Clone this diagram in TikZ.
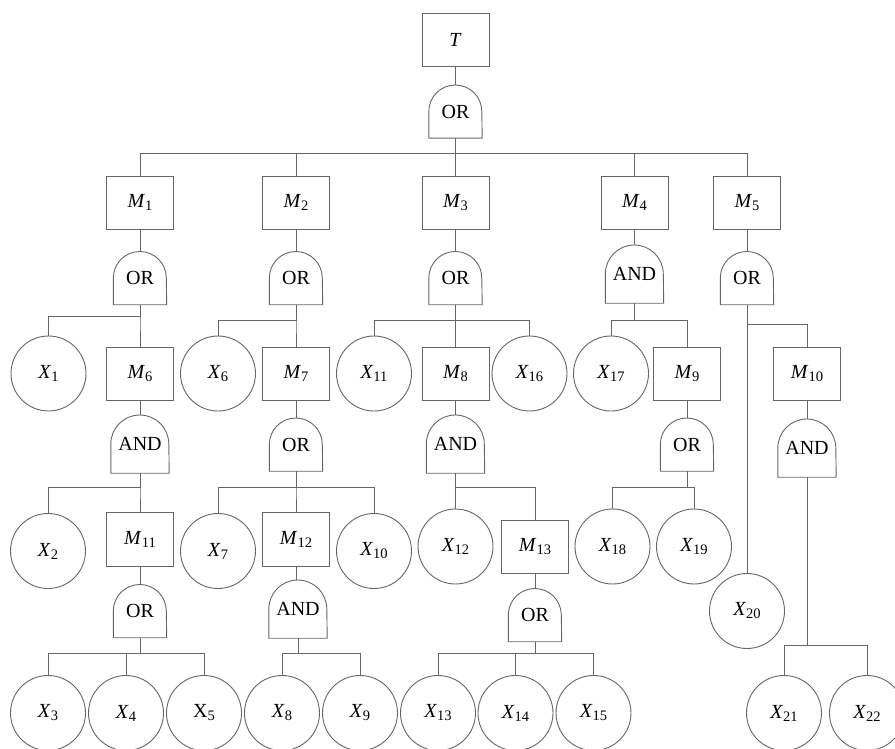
\documentclass[tikz,border=0pt]{standalone}
\usepackage{fontspec}
\setmainfont{Liberation Serif}
\usetikzlibrary{positioning}
\newcommand{\ev}[2]{\textit{#1}\raisebox{-3pt}{\fontsize{14.5}{15}\selectfont #2}}

\begin{document}
\begin{tikzpicture}[x=1pt,y=1pt]
\tikzset{
event/.style={rectangle, draw=black!60, line width=0.9pt, minimum width=67pt, minimum height=53pt, inner sep=0pt, font=\fontsize{20}{24}\selectfont},
basic/.style={circle, draw=black!60, line width=0.9pt, minimum size=75pt, inner sep=0pt, font=\fontsize{20}{24}\selectfont},
orgate/.style={minimum width=53pt, minimum height=53pt, inner sep=0pt, font=\fontsize{20}{24}\selectfont},
andgate/.style={minimum width=58pt, minimum height=58pt, inner sep=0pt, font=\fontsize{20}{24}\selectfont},
link/.style={draw=black!60, line width=0.9pt},
on grid,
}
\useasboundingbox (0,0) rectangle (895,-749);
\clip (0,0) rectangle (895,-749);

% top event
\node [event] (t) at (455.5,-39.5) {\textit{T}};
\node [orgate, below=72pt of t] (g0) {OR};
\node [event, below=91pt of g0, xshift=-315.5pt] (m1) {\ev{M}{1}};
\node [event, below=91pt of g0, xshift=-159.5pt] (m2) {\ev{M}{2}};
\node [event, below=91pt of g0] (m3) {\ev{M}{3}};
\node [event, below=91pt of g0, xshift=179pt] (m4) {\ev{M}{4}};
\node [event, below=91pt of g0, xshift=291.5pt] (m5) {\ev{M}{5}};

% second level gates
\node [orgate, below=75.5pt of m1] (g1) {OR};
\node [orgate, below=75.5pt of m2] (g2) {OR};
\node [orgate, below=75.5pt of m3] (g3) {OR};
\node [andgate, below=71.5pt of m4] (g4) {AND};
\node [orgate, below=75.5pt of m5] (g5) {OR};

% third level
\node [basic, below=95.5pt of g1, xshift=-91.5pt] (x1) {\ev{X}{1}};
\node [event, below=95.5pt of g1] (m6) {\ev{M}{6}};
\node [basic, below=95.5pt of g2, xshift=-78pt] (x6) {\ev{X}{6}};
\node [event, below=95.5pt of g2] (m7) {\ev{M}{7}};
\node [basic, below=95.5pt of g3, xshift=-81.5pt] (x11) {\ev{X}{11}};
\node [event, below=95.5pt of g3] (m8) {\ev{M}{8}};
\node [basic, below=95.5pt of g3, xshift=74pt] (x16) {\ev{X}{16}};
\node [basic, below=99.5pt of g4, xshift=-23.5pt] (x17) {\ev{X}{17}};
\node [event, below=99.5pt of g4, xshift=52.5pt] (m9) {\ev{M}{9}};
\node [event, below=95.5pt of g5, xshift=60pt] (m10) {\ev{M}{10}};

% fourth level gates
\node [andgate, below=70.5pt of m6] (g6) {AND};
\node [orgate, below=71pt of m7] (g7) {OR};
\node [andgate, below=70.5pt of m8] (g8) {AND};
\node [orgate, below=71pt of m9] (g9) {OR};
\node [andgate, below=74.5pt of m10] (g10) {AND};

% fifth level
\node [basic, below=107pt of g6, xshift=-92pt] (x2) {\ev{X}{2}};
\node [event, below=95pt of g6, minimum height=54pt] (m11) {\ev{M}{11}};
\node [basic, below=106.5pt of g7, xshift=-78pt] (x7) {\ev{X}{7}};
\node [event, below=94.5pt of g7, minimum height=54pt] (m12) {\ev{M}{12}};
\node [basic, below=106.5pt of g7, xshift=78pt] (x10) {\ev{X}{10}};
\node [basic, below=102.5pt of g8] (x12) {\ev{X}{12}};
\node [event, below=102.5pt of g8, xshift=79.5pt] (m13) {\ev{M}{13}};
\node [basic, below=102pt of g9, xshift=-74.5pt] (x18) {\ev{X}{18}};
\node [basic, below=102pt of g9, xshift=7pt] (x19) {\ev{X}{19}};
\node [basic, below=333pt of g5] (x20) {\ev{X}{20}};

% sixth level gates
\node [orgate, below=72pt of m11] (g11) {OR};
\node [andgate, below=70pt of m12, xshift=2pt] (g12) {AND};
\node [orgate, below=68.5pt of m13] (g13) {OR};

% basic events at the bottom
\node [basic, below=102pt of g11, xshift=-92pt] (x3) {\ev{X}{3}};
\node [basic, below=102pt of g11, xshift=-14pt] (x4) {\ev{X}{4}};
\node [basic, below=102pt of g11, xshift=64pt] (x5) {\ev{\upshape X}{5}};
\node [basic, below=104pt of g12, xshift=-16pt] (x8) {\ev{X}{8}};
\node [basic, below=104pt of g12, xshift=62pt] (x9) {\ev{X}{9}};
\node [basic, below=98pt of g13, xshift=-97pt] (x13) {\ev{X}{13}};
\node [basic, below=98pt of g13, xshift=-19.5pt] (x14) {\ev{X}{14}};
\node [basic, below=98pt of g13, xshift=58.5pt] (x15) {\ev{X}{15}};
\node [basic, below=265pt of g10, xshift=-23pt] (x21) {\ev{X}{21}};
\node [basic, below=265pt of g10, xshift=60pt] (x22) {\ev{X}{22}};

% gate outlines
\foreach \g in {g0,g1,g2,g3,g5,g7,g9,g11,g13}
  \draw[link] (\g.south west) -- (\g.west) arc[start angle=180, end angle=0, radius=26.5pt] -- (\g.south east) -- cycle;
\foreach \g in {g4,g6,g8,g10,g12}
  \draw[link] (\g.south west) -- (\g.west) arc[start angle=180, end angle=0, radius=29pt] -- (\g.south east) -- cycle;

% connections
\draw[link] (t) -- (g0);
\draw[link] (g0.south) -- ++(0,-15) -| (m1.north);
\draw[link] (g0.south) -- ++(0,-15) -| (m2.north);
\draw[link] (g0.south) -- ++(0,-15) -| (m3.north);
\draw[link] (g0.south) -- ++(0,-15) -| (m4.north);
\draw[link] (g0.south) -- ++(0,-15) -| (m5.north);
\draw[link] (m1) -- (g1);
\draw[link] (m2) -- (g2);
\draw[link] (m3) -- (g3);
\draw[link] (m4) -- (g4);
\draw[link] (m5) -- (g5);
\draw[link] (g1.south) -- ++(0,-11.5) -| (x1.north);
\draw[link] (g1.south) -- ++(0,-11.5) -| (m6.north);
\draw[link] (g2.south) -- ++(0,-15.5) -| (x6.north);
\draw[link] (g2.south) -- ++(0,-15.5) -| (m7.north);
\draw[link] (g3.south) -- ++(0,-15.5) -| (x11.north);
\draw[link] (g3.south) -- ++(0,-15.5) -| (m8.north);
\draw[link] (g3.south) -- ++(0,-15.5) -| (x16.north);
\draw[link] (g4.south) -- ++(0,-17) -| (x17.north);
\draw[link] (g4.south) -- ++(0,-17) -| (m9.north);
\draw[link] (g5.south) -- ++(0,-19.5) -| (m10.north);
\draw[link] (g5.south) -- (x20.north);
\draw[link] (m6) -- (g6);
\draw[link] (m7) -- (g7);
\draw[link] (m8) -- (g8);
\draw[link] (m9) -- (g9);
\draw[link] (m10) -- (g10);
\draw[link] (g6.south) -- ++(0,-14) -| (x2.north);
\draw[link] (g6.south) -- ++(0,-14) -| (m11.north);
\draw[link] (g7.south) -- ++(0,-16) -| (x7.north);
\draw[link] (g7.south) -- ++(0,-16) -| (m12.north);
\draw[link] (g7.south) -- ++(0,-16) -| (x10.north);
\draw[link] (g8.south) -- ++(0,-14) -| (x12.north);
\draw[link] (g8.south) -- ++(0,-14) -| (m13.north);
\draw[link] (g9.south) -- ++(0,-16) -| (x18.north);
\draw[link] (g9.south) -- ++(0,-16) -| (x19.north);
\draw[link] (g10.south) -- ++(0,-168) -| (x21.north);
\draw[link] (g10.south) -- ++(0,-168) -| (x22.north);
\draw[link] (m11) -- (g11);
\draw[link] (m12.south) -- (g12.north -| m12.south);
\draw[link] (m13) -- (g13);
\draw[link] (g11.south) -- ++(0,-15.5) -| (x3.north);
\draw[link] (g11.south) -- ++(0,-15.5) -| (x4.north);
\draw[link] (g11.south) -- ++(0,-15.5) -| (x5.north);
\draw[link] (g12.south) -- ++(0,-15) -| (x8.north);
\draw[link] (g12.south) -- ++(0,-15) -| (x9.north);
\draw[link] (g13.south) -- ++(0,-11.5) -| (x13.north);
\draw[link] (g13.south) -- ++(0,-11.5) -| (x14.north);
\draw[link] (g13.south) -- ++(0,-11.5) -| (x15.north);
\end{tikzpicture}
\end{document}
